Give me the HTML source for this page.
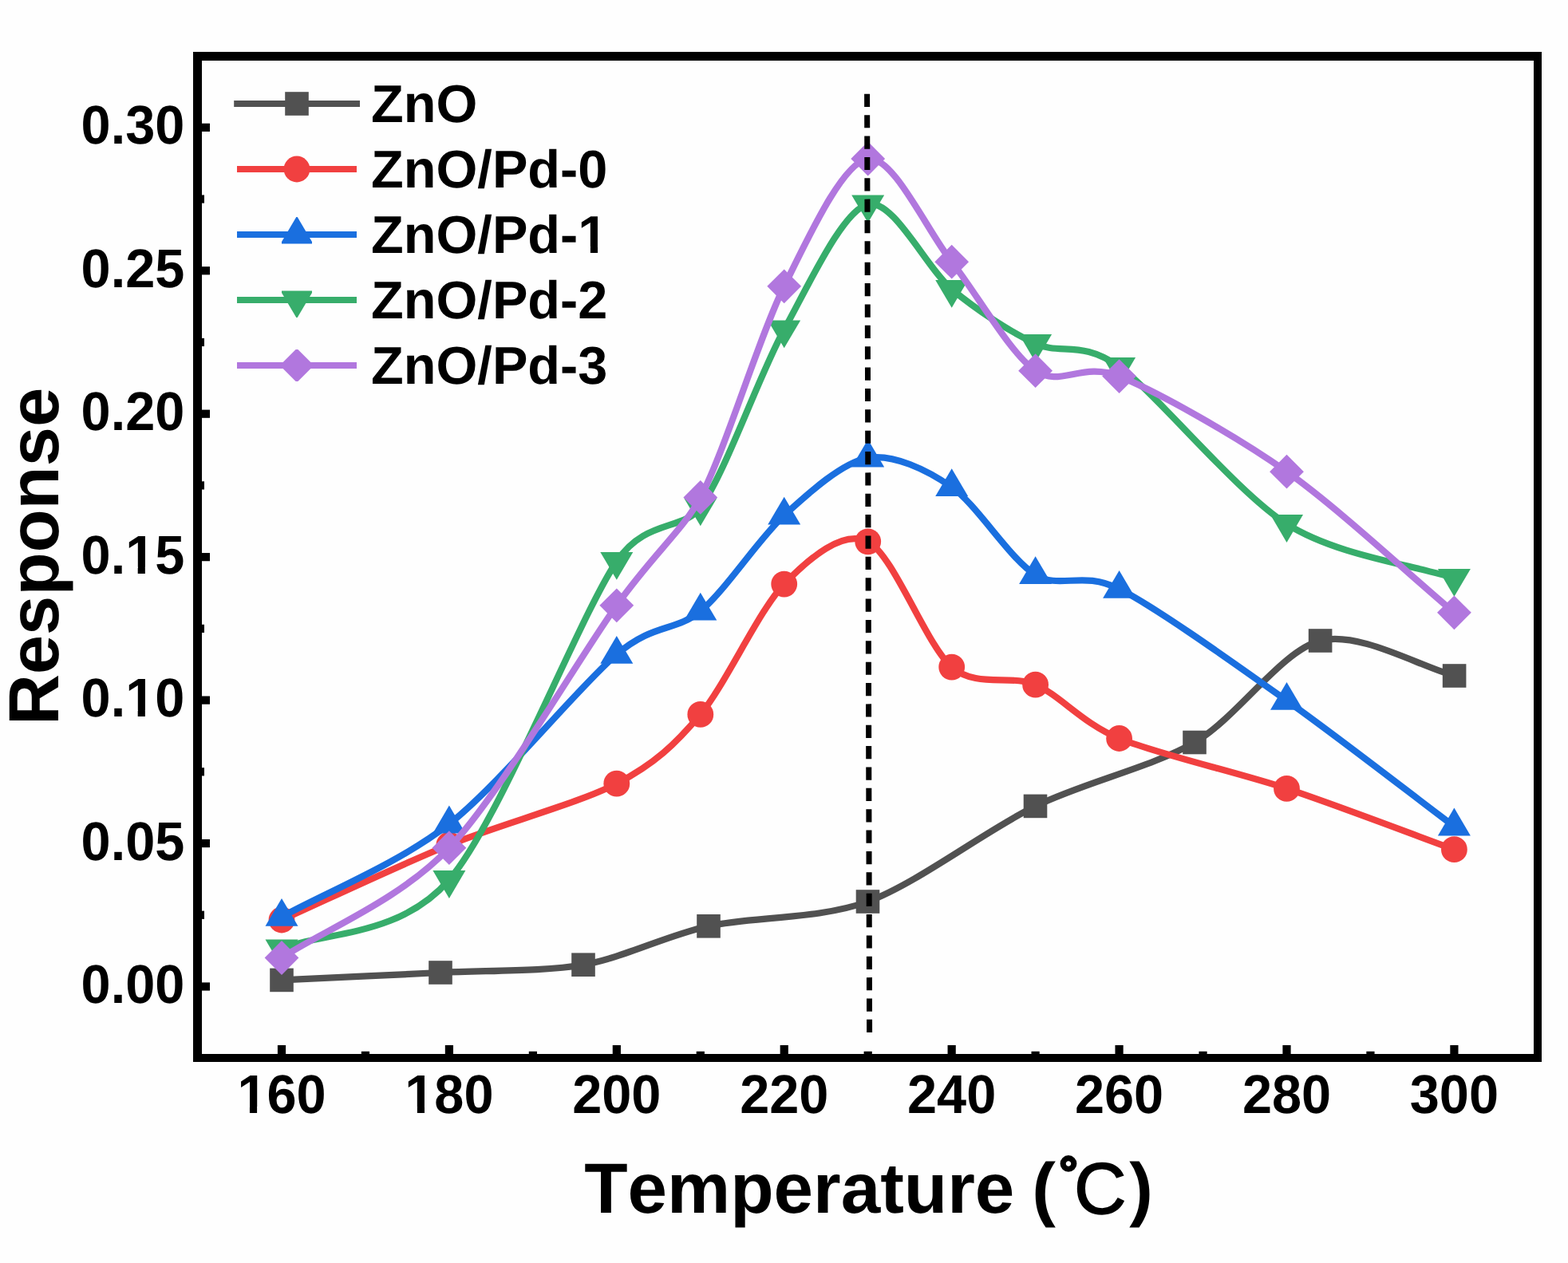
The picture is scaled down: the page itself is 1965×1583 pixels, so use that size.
<!DOCTYPE html>
<html lang="en"><head><meta charset="utf-8"><title>Response vs Temperature</title>
<style>html,body{margin:0;padding:0;background:#fefefe;}html{width:1965px;height:1583px;}body{width:1965px;height:1583px;overflow:hidden;}svg{display:block;}text{font-family:"Liberation Sans",Arial,Helvetica,sans-serif;font-weight:bold;fill:#000;font-kerning:none;text-rendering:geometricPrecision;}</style></head><body>
<svg width="1965" height="1583" viewBox="0 0 1965 1583">
<rect x="0" y="0" width="1965" height="1583" fill="#fefefe"/>
<g>
<path d="M353 1228.4C402.75 1226.05 495.3 1221.88 552 1219C608.7 1216.12 680.6 1217.93 731 1209.2C781.4 1200.47 834.52 1172.68 888 1160.8C941.48 1148.92 1026.08 1152.56 1087.5 1130C1148.92 1107.44 1236.08 1040.33 1297.5 1010.4C1358.92 980.48 1443.43 961.61 1497 930.5C1550.57 899.39 1605.76 815.52 1654.6 803C1703.44 790.48 1780.6 836 1822.6 847" fill="none" stroke="#515151" stroke-width="8.2" stroke-linejoin="round" stroke-linecap="butt"/>
<rect x="338.2" y="1213.6" width="29.6" height="29.6" fill="#515151"/>
<rect x="537.2" y="1204.2" width="29.6" height="29.6" fill="#515151"/>
<rect x="716.2" y="1194.4" width="29.6" height="29.6" fill="#515151"/>
<rect x="873.2" y="1146" width="29.6" height="29.6" fill="#515151"/>
<rect x="1072.7" y="1115.2" width="29.6" height="29.6" fill="#515151"/>
<rect x="1282.7" y="995.6" width="29.6" height="29.6" fill="#515151"/>
<rect x="1482.2" y="915.7" width="29.6" height="29.6" fill="#515151"/>
<rect x="1639.8" y="788.2" width="29.6" height="29.6" fill="#515151"/>
<rect x="1807.8" y="832.2" width="29.6" height="29.6" fill="#515151"/>
</g>
<g>
<path d="M353 1153C405.48 1129.5 499.93 1084.62 562.9 1059C625.87 1033.38 725.56 1006.74 772.8 982.2C820.03 957.66 846.31 932.91 877.8 895.4C909.28 857.88 951.22 764.59 982.7 732.1C1014.19 699.61 1056.2 663.2 1087.7 678.8C1119.2 694.4 1161.22 809.19 1192.7 836.1C1224.18 863.01 1266.12 844.79 1297.6 858.2C1329.08 871.61 1355.36 905.97 1402.6 925.5C1449.84 945.03 1549.53 967.52 1612.5 988.4C1675.47 1009.28 1769.93 1045.62 1822.4 1064.7" fill="none" stroke="#F14040" stroke-width="8.2" stroke-linejoin="round" stroke-linecap="butt"/>
<circle cx="353" cy="1153" r="16.4" fill="#F14040"/>
<circle cx="562.9" cy="1059" r="16.4" fill="#F14040"/>
<circle cx="772.8" cy="982.2" r="16.4" fill="#F14040"/>
<circle cx="877.8" cy="895.4" r="16.4" fill="#F14040"/>
<circle cx="982.7" cy="732.1" r="16.4" fill="#F14040"/>
<circle cx="1087.7" cy="678.8" r="16.4" fill="#F14040"/>
<circle cx="1192.7" cy="836.1" r="16.4" fill="#F14040"/>
<circle cx="1297.6" cy="858.2" r="16.4" fill="#F14040"/>
<circle cx="1402.6" cy="925.5" r="16.4" fill="#F14040"/>
<circle cx="1612.5" cy="988.4" r="16.4" fill="#F14040"/>
<circle cx="1822.4" cy="1064.7" r="16.4" fill="#F14040"/>
</g>
<g>
<path d="M353 1149.2C405.48 1120.1 499.93 1082.15 562.9 1032.8C625.87 983.45 725.56 860.22 772.8 820.2C820.03 780.18 846.31 792.14 877.8 766C909.28 739.86 951.22 674.7 982.7 645.9C1014.19 617.1 1056.2 579.31 1087.7 574C1119.2 568.69 1161.22 588.54 1192.7 610.5C1224.18 632.46 1266.12 701.25 1297.6 720.4C1329.08 739.55 1355.36 714.55 1402.6 738.2C1449.84 761.86 1549.53 833.46 1612.5 878.1C1675.47 922.74 1769.93 996.38 1822.4 1035.8" fill="none" stroke="#1A6FDF" stroke-width="8.2" stroke-linejoin="round" stroke-linecap="butt"/>
<path d="M353 1126L373.5 1160.8L332.5 1160.8Z" fill="#1A6FDF"/>
<path d="M562.9 1009.6L583.4 1044.4L542.4 1044.4Z" fill="#1A6FDF"/>
<path d="M772.8 797L793.3 831.8L752.3 831.8Z" fill="#1A6FDF"/>
<path d="M877.8 742.8L898.3 777.6L857.3 777.6Z" fill="#1A6FDF"/>
<path d="M982.7 622.7L1003.2 657.5L962.2 657.5Z" fill="#1A6FDF"/>
<path d="M1087.7 550.8L1108.2 585.6L1067.2 585.6Z" fill="#1A6FDF"/>
<path d="M1192.7 587.3L1213.2 622.1L1172.2 622.1Z" fill="#1A6FDF"/>
<path d="M1297.6 697.2L1318.1 732L1277.1 732Z" fill="#1A6FDF"/>
<path d="M1402.6 715L1423.1 749.8L1382.1 749.8Z" fill="#1A6FDF"/>
<path d="M1612.5 854.9L1633 889.7L1592 889.7Z" fill="#1A6FDF"/>
<path d="M1822.4 1012.6L1842.9 1047.4L1801.9 1047.4Z" fill="#1A6FDF"/>
</g>
<g>
<path d="M353 1189C405.48 1167.42 499.93 1175.51 562.9 1102.7C625.87 1029.89 725.56 773.61 772.8 703.6C808.91 650.09 856.53 665.45 877.8 636C909.28 592.41 951.22 470 982.7 413C1014.19 356 1056.2 263.57 1087.7 256C1119.2 248.43 1161.22 336.3 1192.7 362.5C1224.18 388.7 1266.12 416.15 1297.6 430.7C1329.08 445.25 1355.36 425.6 1402.6 459.5C1449.84 493.4 1549.53 616.94 1612.5 656.7C1675.47 696.47 1769.93 707.62 1822.4 724.6" fill="none" stroke="#37AD6B" stroke-width="8.2" stroke-linejoin="round" stroke-linecap="butt"/>
<path d="M353 1212.2L373.5 1177.4L332.5 1177.4Z" fill="#37AD6B"/>
<path d="M562.9 1125.9L583.4 1091.1L542.4 1091.1Z" fill="#37AD6B"/>
<path d="M772.8 726.8L793.3 692L752.3 692Z" fill="#37AD6B"/>
<path d="M877.8 659.2L898.3 624.4L857.3 624.4Z" fill="#37AD6B"/>
<path d="M982.7 436.2L1003.2 401.4L962.2 401.4Z" fill="#37AD6B"/>
<path d="M1087.7 279.2L1108.2 244.4L1067.2 244.4Z" fill="#37AD6B"/>
<path d="M1192.7 385.7L1213.2 350.9L1172.2 350.9Z" fill="#37AD6B"/>
<path d="M1297.6 453.9L1318.1 419.1L1277.1 419.1Z" fill="#37AD6B"/>
<path d="M1402.6 482.7L1423.1 447.9L1382.1 447.9Z" fill="#37AD6B"/>
<path d="M1612.5 679.9L1633 645.1L1592 645.1Z" fill="#37AD6B"/>
<path d="M1822.4 747.8L1842.9 713L1801.9 713Z" fill="#37AD6B"/>
</g>
<g>
<path d="M353 1200.5C405.48 1166.05 499.93 1128.96 562.9 1062.7C625.87 996.45 725.56 824.69 772.8 758.8C820.03 692.9 856.81 663.4 877.8 623.4C909.28 563.4 951.22 422.46 982.7 358.8C1014.19 295.14 1056.2 203.59 1087.7 199C1119.2 194.41 1161.22 288.34 1192.7 328.2C1224.18 368.06 1266.12 443.19 1297.6 464.7C1329.08 486.21 1355.36 452.62 1402.6 471.6C1449.84 490.58 1549.53 546.77 1612.5 591.2C1675.47 635.63 1769.93 723.65 1822.4 767.8" fill="none" stroke="#B177DE" stroke-width="8.2" stroke-linejoin="round" stroke-linecap="butt"/>
<path d="M353 1179.1L374.4 1200.5L353 1221.9L331.6 1200.5Z" fill="#B177DE"/>
<path d="M562.9 1041.3L584.3 1062.7L562.9 1084.1L541.5 1062.7Z" fill="#B177DE"/>
<path d="M772.8 737.4L794.2 758.8L772.8 780.2L751.4 758.8Z" fill="#B177DE"/>
<path d="M877.8 602L899.2 623.4L877.8 644.8L856.4 623.4Z" fill="#B177DE"/>
<path d="M982.7 337.4L1004.1 358.8L982.7 380.2L961.3 358.8Z" fill="#B177DE"/>
<path d="M1087.7 177.6L1109.1 199L1087.7 220.4L1066.3 199Z" fill="#B177DE"/>
<path d="M1192.7 306.8L1214.1 328.2L1192.7 349.6L1171.3 328.2Z" fill="#B177DE"/>
<path d="M1297.6 443.3L1319 464.7L1297.6 486.1L1276.2 464.7Z" fill="#B177DE"/>
<path d="M1402.6 450.2L1424 471.6L1402.6 493L1381.2 471.6Z" fill="#B177DE"/>
<path d="M1612.5 569.8L1633.9 591.2L1612.5 612.6L1591.1 591.2Z" fill="#B177DE"/>
<path d="M1822.4 746.4L1843.8 767.8L1822.4 789.2L1801 767.8Z" fill="#B177DE"/>
</g>
<line x1="1086.6" y1="117.8" x2="1089.6" y2="1294" stroke="#000" stroke-width="7" stroke-dasharray="16.2 10.165"/>
<g fill="#000"><rect x="347.9" y="1310" width="10.2" height="16"/><rect x="557.81" y="1310" width="10.2" height="16"/><rect x="767.73" y="1310" width="10.2" height="16"/><rect x="977.64" y="1310" width="10.2" height="16"/><rect x="1187.56" y="1310" width="10.2" height="16"/><rect x="1397.47" y="1310" width="10.2" height="16"/><rect x="1607.39" y="1310" width="10.2" height="16"/><rect x="1817.3" y="1310" width="10.2" height="16"/><rect x="452.86" y="1317.8" width="10.2" height="8.2"/><rect x="662.77" y="1317.8" width="10.2" height="8.2"/><rect x="872.69" y="1317.8" width="10.2" height="8.2"/><rect x="1082.6" y="1317.8" width="10.2" height="8.2"/><rect x="1292.51" y="1317.8" width="10.2" height="8.2"/><rect x="1502.43" y="1317.8" width="10.2" height="8.2"/><rect x="1712.34" y="1317.8" width="10.2" height="8.2"/><rect x="247.5" y="1231.4" width="15.5" height="10.2"/><rect x="247.5" y="1051.95" width="15.5" height="10.2"/><rect x="247.5" y="872.5" width="15.5" height="10.2"/><rect x="247.5" y="693.05" width="15.5" height="10.2"/><rect x="247.5" y="513.6" width="15.5" height="10.2"/><rect x="247.5" y="334.15" width="15.5" height="10.2"/><rect x="247.5" y="154.7" width="15.5" height="10.2"/><rect x="247.5" y="1141.68" width="8.5" height="10.2"/><rect x="247.5" y="962.22" width="8.5" height="10.2"/><rect x="247.5" y="782.77" width="8.5" height="10.2"/><rect x="247.5" y="603.32" width="8.5" height="10.2"/><rect x="247.5" y="423.87" width="8.5" height="10.2"/><rect x="247.5" y="244.42" width="8.5" height="10.2"/></g>
<path d="M242 65H1932V1331H242ZM253 76V1321H1922V76Z" fill="#000" fill-rule="evenodd"/>
<text transform="translate(353 1395.3) scale(1 1.025)" font-size="66.67" text-anchor="middle">160</text>
<text transform="translate(562.91 1395.3) scale(1 1.025)" font-size="66.67" text-anchor="middle">180</text>
<text transform="translate(772.83 1395.3) scale(1 1.025)" font-size="66.67" text-anchor="middle">200</text>
<text transform="translate(982.74 1395.3) scale(1 1.025)" font-size="66.67" text-anchor="middle">220</text>
<text transform="translate(1192.66 1395.3) scale(1 1.025)" font-size="66.67" text-anchor="middle">240</text>
<text transform="translate(1402.57 1395.3) scale(1 1.025)" font-size="66.67" text-anchor="middle">260</text>
<text transform="translate(1612.49 1395.3) scale(1 1.025)" font-size="66.67" text-anchor="middle">280</text>
<text transform="translate(1822.4 1395.3) scale(1 1.025)" font-size="66.67" text-anchor="middle">300</text>
<text transform="translate(231.3 1257) scale(1 1.025)" font-size="66.67" text-anchor="end">0.00</text>
<text transform="translate(231.3 1077.55) scale(1 1.025)" font-size="66.67" text-anchor="end">0.05</text>
<text transform="translate(231.3 898.1) scale(1 1.025)" font-size="66.67" text-anchor="end">0.10</text>
<text transform="translate(231.3 718.65) scale(1 1.025)" font-size="66.67" text-anchor="end">0.15</text>
<text transform="translate(231.3 539.2) scale(1 1.025)" font-size="66.67" text-anchor="end">0.20</text>
<text transform="translate(231.3 359.75) scale(1 1.025)" font-size="66.67" text-anchor="end">0.25</text>
<text transform="translate(231.3 180.3) scale(1 1.025)" font-size="66.67" text-anchor="end">0.30</text>
<text font-size="89"><tspan x="732.2" y="1520">Temperature </tspan><tspan dx="-2.8">(</tspan><tspan x="1327.1" y="1491.7" font-weight="normal" font-size="60" stroke="#000" stroke-width="4">°</tspan><tspan x="1345.9" y="1521.3" font-weight="normal" font-size="90.7" stroke="#000" stroke-width="1.6">C</tspan><tspan x="1415.3" y="1520">)</tspan></text>
<text transform="translate(73.3 909.1) rotate(-90)" font-size="89" textLength="423.3" lengthAdjust="spacingAndGlyphs">Response</text>
<line x1="293.2" y1="130" x2="451" y2="130" stroke="#515151" stroke-width="8.2"/>
<rect x="357.2" y="115.2" width="29.6" height="29.6" fill="#515151"/>
<text x="465.1" y="152.9" font-size="66.67">ZnO</text>
<line x1="297" y1="212" x2="447" y2="212" stroke="#F14040" stroke-width="8.2"/>
<circle cx="372" cy="212" r="16.4" fill="#F14040"/>
<text x="465.1" y="234.9" font-size="66.67">ZnO/Pd-0</text>
<line x1="297" y1="294" x2="447" y2="294" stroke="#1A6FDF" stroke-width="8.2"/>
<path d="M353 305.6L353 303.05L371.3 271.9L372.7 271.9L391 303.05L391 305.6Z" fill="#1A6FDF"/>
<text x="465.1" y="316.9" font-size="66.67">ZnO/Pd-1</text>
<line x1="297" y1="376" x2="447" y2="376" stroke="#37AD6B" stroke-width="8.2"/>
<path d="M353 364.4L353 366.95L371.3 398.1L372.7 398.1L391 366.95L391 364.4Z" fill="#37AD6B"/>
<text x="465.1" y="398.9" font-size="66.67">ZnO/Pd-2</text>
<line x1="297" y1="458" x2="447" y2="458" stroke="#B177DE" stroke-width="8.2"/>
<path d="M350.6 458L370.6 438L373.4 438L393.4 458L373.4 478L370.6 478Z" fill="#B177DE"/>
<text x="465.1" y="480.9" font-size="66.67">ZnO/Pd-3</text>
<g fill="#fefefe"><rect x="300.08" y="1387.13" width="12.86" height="9.37"/><rect x="322.09" y="1387.13" width="12.01" height="9.37"/><rect x="510" y="1387.13" width="12.86" height="9.37"/><rect x="532" y="1387.13" width="12.01" height="9.37"/><rect x="159.84" y="889.93" width="12.86" height="9.37"/><rect x="181.85" y="889.93" width="12.01" height="9.37"/><rect x="159.84" y="710.48" width="12.86" height="9.37"/><rect x="181.85" y="710.48" width="12.01" height="9.37"/><rect x="727.02" y="308.9" width="12.86" height="9.2"/><rect x="749.03" y="308.9" width="12.01" height="9.2"/></g>
</svg></body></html>
